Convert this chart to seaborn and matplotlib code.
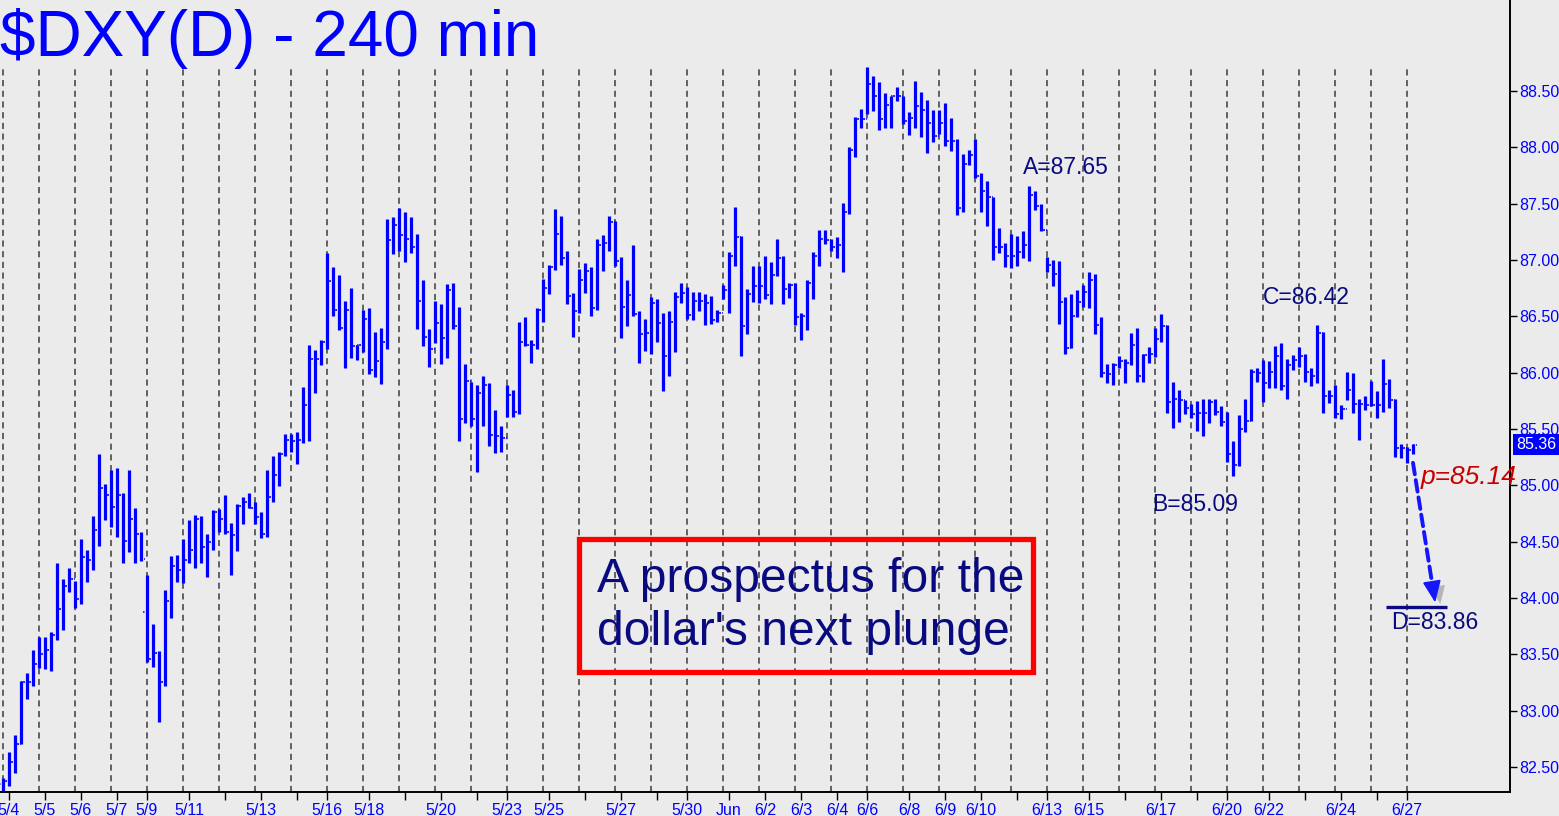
import numpy as np
import pandas as pd
import matplotlib
matplotlib.use('Agg')
import matplotlib.pyplot as plt
import matplotlib.patheffects as pe
from matplotlib.patches import Rectangle
from matplotlib.ticker import FormatStrFormatter
import seaborn as sns

# --- 240 min OHLC bars of $DXY (one row of 12 bars per line)
highs = [
    82.40, 82.63, 82.78, 83.26, 83.33, 83.54, 83.65, 83.65, 83.70, 84.31, 84.17, 84.27,
    84.15, 84.52, 84.43, 84.73, 85.28, 85.01, 85.14, 85.15, 84.93, 85.14, 84.80, 84.59,
    84.20, 83.77, 83.53, 84.07, 84.37, 84.38, 84.52, 84.69, 84.74, 84.73, 84.57, 84.78,
    84.79, 84.91, 84.67, 84.83, 84.90, 84.93, 84.85, 84.76, 85.14, 85.26, 85.30, 85.46,
    85.46, 85.47, 85.87, 86.25, 86.20, 86.29, 87.06, 86.94, 86.87, 86.64, 86.75, 86.25,
    86.56, 86.57, 86.36, 86.40, 87.36, 87.38, 87.46, 87.43, 87.38, 87.23, 86.82, 86.39,
    86.64, 86.61, 86.79, 86.80, 86.58, 86.08, 85.92, 85.89, 85.97, 85.91, 85.67, 85.53,
    85.89, 85.85, 86.45, 86.49, 86.29, 86.57, 86.83, 86.96, 87.45, 87.39, 87.08, 86.71,
    86.92, 86.97, 86.94, 87.19, 87.22, 87.39, 87.35, 87.03, 86.82, 87.13, 86.55, 86.48,
    86.67, 86.65, 86.53, 86.55, 86.72, 86.80, 86.76, 86.72, 86.72, 86.70, 86.68, 86.56,
    86.78, 87.07, 87.47, 87.21, 86.74, 86.95, 86.95, 87.04, 86.98, 87.19, 87.04, 86.80,
    86.80, 86.53, 86.82, 87.07, 87.27, 87.27, 87.19, 87.20, 87.51, 88.00, 88.27, 88.34,
    88.71, 88.63, 88.58, 88.48, 88.46, 88.54, 88.46, 88.31, 88.59, 88.49, 88.42, 88.33,
    88.33, 88.39, 88.26, 88.07, 87.94, 87.98, 88.07, 87.77, 87.70, 87.56, 87.28, 87.15,
    87.23, 87.21, 87.26, 87.66, 87.61, 87.50, 87.03, 87.00, 86.99, 86.67, 86.70, 86.73,
    86.78, 86.89, 86.88, 86.49, 86.08, 86.09, 86.15, 86.12, 86.35, 86.40, 86.17, 86.23,
    86.40, 86.52, 86.42, 85.92, 85.85, 85.76, 85.72, 85.75, 85.77, 85.77, 85.77, 85.70,
    85.65, 85.39, 85.62, 85.77, 86.03, 86.04, 86.11, 86.10, 86.24, 86.26, 86.12, 86.16,
    86.23, 86.17, 86.04, 86.42, 86.36, 85.85, 85.89, 85.71, 86.01, 86.00, 85.77, 85.79,
    85.93, 85.84, 86.12, 85.94, 85.77, 85.37, 85.34, 85.37,
]
lows = [
    82.29, 82.33, 82.45, 82.70, 83.10, 83.22, 83.38, 83.37, 83.35, 83.63, 83.72, 84.05,
    83.91, 83.95, 84.14, 84.25, 84.46, 84.69, 84.63, 84.54, 84.31, 84.41, 84.31, 84.33,
    83.43, 83.39, 82.90, 83.22, 83.82, 84.14, 84.13, 84.31, 84.27, 84.31, 84.19, 84.43,
    84.59, 84.57, 84.20, 84.42, 84.66, 84.80, 84.66, 84.53, 84.54, 84.85, 84.99, 85.26,
    85.30, 85.19, 85.38, 85.39, 85.82, 86.07, 86.21, 86.50, 86.38, 86.04, 86.13, 86.11,
    86.18, 85.99, 85.96, 85.90, 86.21, 87.05, 87.08, 86.98, 87.06, 86.39, 86.24, 86.05,
    86.26, 86.08, 86.13, 86.39, 85.39, 85.55, 85.53, 85.12, 85.53, 85.35, 85.29, 85.30,
    85.61, 85.61, 85.63, 86.24, 86.09, 86.21, 86.45, 86.70, 86.91, 86.96, 86.61, 86.32,
    86.53, 86.71, 86.50, 86.56, 86.90, 87.08, 86.95, 86.31, 86.41, 86.50, 86.09, 86.19,
    86.17, 86.27, 85.84, 85.97, 86.18, 86.62, 86.48, 86.47, 86.55, 86.42, 86.43, 86.45,
    86.65, 86.53, 86.95, 86.15, 86.34, 86.63, 86.62, 86.65, 86.61, 86.86, 86.61, 86.66,
    86.42, 86.29, 86.38, 86.65, 86.95, 87.14, 87.08, 87.02, 86.89, 87.41, 87.91, 88.17,
    88.30, 88.32, 88.15, 88.17, 88.17, 88.41, 88.21, 88.11, 88.17, 88.09, 87.95, 88.05,
    88.12, 88.01, 87.97, 87.40, 87.43, 87.84, 87.73, 87.43, 87.30, 87.00, 87.06, 86.94,
    86.93, 86.95, 87.02, 86.99, 87.44, 87.26, 86.89, 86.77, 86.43, 86.17, 86.22, 86.49,
    86.58, 86.57, 86.34, 85.96, 85.91, 85.89, 86.04, 85.91, 86.07, 85.92, 85.92, 86.09,
    86.14, 86.27, 85.64, 85.51, 85.56, 85.63, 85.60, 85.48, 85.44, 85.55, 85.62, 85.53,
    85.21, 85.08, 85.17, 85.47, 85.57, 85.92, 85.74, 85.86, 85.86, 85.85, 85.77, 86.02,
    86.05, 85.92, 85.88, 85.91, 85.64, 85.73, 85.60, 85.59, 85.76, 85.64, 85.40, 85.67,
    85.70, 85.60, 85.65, 85.69, 85.25, 85.24, 85.20, 85.28,
]
opens = [
    82.35, 82.38, 82.54, 82.70, 83.25, 83.25, 83.41, 83.50, 83.54, 83.67, 83.90, 84.11,
    84.17, 83.99, 84.36, 84.34, 84.60, 84.98, 84.91, 84.81, 84.91, 84.51, 84.70, 84.57,
    83.88, 83.46, 83.51, 83.25, 83.97, 84.28, 84.25, 84.34, 84.43, 84.70, 84.45, 84.50,
    84.76, 84.70, 84.59, 84.56, 84.82, 84.85, 84.80, 84.72, 84.57, 84.90, 85.09, 85.28,
    85.40, 85.39, 85.40, 85.71, 86.12, 86.12, 86.27, 86.81, 86.56, 86.40, 86.56, 86.24,
    86.25, 86.48, 86.02, 86.10, 86.27, 87.18, 87.31, 87.22, 87.19, 87.12, 86.64, 86.32,
    86.21, 86.44, 86.31, 86.73, 86.41, 85.59, 85.93, 85.59, 85.82, 85.89, 85.45, 85.44,
    85.42, 85.80, 85.65, 86.27, 86.25, 86.25, 86.56, 86.75, 86.94, 87.23, 87.02, 86.68,
    86.55, 86.82, 86.90, 86.57, 87.13, 87.15, 87.34, 86.99, 86.58, 86.69, 86.52, 86.34,
    86.35, 86.62, 86.44, 86.15, 86.45, 86.67, 86.71, 86.51, 86.64, 86.64, 86.62, 86.47,
    86.53, 86.73, 87.04, 87.20, 86.41, 86.70, 86.77, 86.77, 86.69, 86.87, 87.02, 86.74,
    86.78, 86.49, 86.50, 86.80, 87.04, 87.19, 87.18, 87.12, 87.13, 87.43, 87.98, 88.25,
    88.25, 88.56, 88.46, 88.25, 88.38, 88.46, 88.46, 88.23, 88.26, 88.37, 88.33, 88.22,
    88.10, 88.22, 88.06, 88.06, 87.46, 87.85, 87.93, 87.75, 87.61, 87.56, 87.12, 87.12,
    87.04, 87.04, 87.07, 87.13, 87.58, 87.48, 87.27, 86.96, 86.88, 86.63, 86.22, 86.50,
    86.63, 86.72, 86.82, 86.42, 86.00, 85.99, 86.07, 86.10, 86.09, 86.25, 85.97, 86.16,
    86.17, 86.30, 86.41, 85.74, 85.77, 85.76, 85.69, 85.63, 85.64, 85.64, 85.74, 85.65,
    85.56, 85.28, 85.18, 85.50, 85.57, 86.01, 86.00, 85.91, 86.01, 86.15, 85.88, 86.07,
    86.11, 86.15, 86.01, 85.97, 86.35, 85.79, 85.79, 85.63, 85.68, 85.85, 85.72, 85.72,
    85.71, 85.71, 85.71, 85.90, 85.76, 85.33, 85.33, 85.31,
]
closes = [
    82.38, 82.54, 82.70, 83.25, 83.25, 83.41, 83.50, 83.54, 83.67, 83.90, 84.11, 84.17,
    83.99, 84.36, 84.34, 84.60, 84.98, 84.91, 84.81, 84.91, 84.51, 84.70, 84.57, 84.35,
    83.46, 83.51, 83.25, 83.97, 84.28, 84.25, 84.34, 84.43, 84.70, 84.45, 84.50, 84.76,
    84.70, 84.59, 84.56, 84.82, 84.85, 84.80, 84.72, 84.57, 84.90, 85.09, 85.28, 85.40,
    85.39, 85.40, 85.71, 86.12, 86.12, 86.27, 86.81, 86.56, 86.40, 86.56, 86.24, 86.25,
    86.48, 86.02, 86.10, 86.27, 87.18, 87.31, 87.22, 87.19, 87.12, 86.64, 86.32, 86.21,
    86.44, 86.31, 86.73, 86.41, 85.59, 85.93, 85.59, 85.82, 85.89, 85.45, 85.44, 85.42,
    85.80, 85.65, 86.27, 86.25, 86.25, 86.56, 86.75, 86.94, 87.23, 87.02, 86.68, 86.55,
    86.82, 86.90, 86.57, 87.13, 87.15, 87.34, 86.99, 86.58, 86.69, 86.52, 86.34, 86.35,
    86.62, 86.44, 86.15, 86.45, 86.67, 86.71, 86.51, 86.64, 86.64, 86.62, 86.47, 86.53,
    86.73, 87.04, 87.20, 86.41, 86.70, 86.77, 86.77, 86.69, 86.87, 87.02, 86.74, 86.78,
    86.49, 86.50, 86.80, 87.04, 87.19, 87.18, 87.12, 87.13, 87.43, 87.98, 88.25, 88.25,
    88.56, 88.46, 88.25, 88.38, 88.46, 88.46, 88.23, 88.26, 88.37, 88.33, 88.22, 88.10,
    88.22, 88.06, 88.06, 87.46, 87.85, 87.93, 87.75, 87.61, 87.56, 87.12, 87.12, 87.04,
    87.04, 87.07, 87.13, 87.58, 87.48, 87.27, 86.96, 86.88, 86.63, 86.22, 86.50, 86.63,
    86.72, 86.82, 86.42, 86.00, 85.99, 86.07, 86.10, 86.09, 86.25, 85.97, 86.16, 86.17,
    86.30, 86.41, 85.74, 85.77, 85.76, 85.69, 85.63, 85.64, 85.64, 85.74, 85.65, 85.56,
    85.28, 85.18, 85.50, 85.57, 86.01, 86.00, 85.91, 86.01, 86.15, 85.88, 86.07, 86.11,
    86.15, 86.01, 85.97, 86.35, 85.79, 85.79, 85.63, 85.68, 85.85, 85.72, 85.72, 85.71,
    85.71, 85.71, 85.90, 85.76, 85.33, 85.33, 85.31, 85.36,
]

# date ticks (bar index where the session label sits) and their labels
date_tick_bars = [1, 7, 13, 19, 24, 31, 37, 43, 49, 54, 61, 67, 73, 79, 84, 91, 97, 103, 109, 114,
                  121, 127, 133, 139, 144, 151, 157, 163, 169, 174, 181, 187, 193, 199, 204, 211,
                  217, 223, 229, 234]
date_labels = ['5/4', '5/5', '5/6', '5/7', '5/9', '5/11', '', '5/13', '', '5/16', '5/18', '', '5/20', '',
               '5/23', '5/25', '', '5/27', '', '5/30', 'Jun', '6/2', '6/3', '6/4', '6/6', '6/8', '6/9',
               '6/10', '', '6/13', '6/15', '', '6/17', '', '6/20', '6/22', '', '6/24', '', '6/27']
price_ticks = [82.5, 83.0, 83.5, 84.0, 84.5, 85.0, 85.5, 86.0, 86.5, 87.0, 87.5, 88.0, 88.5]

# ABCD pattern pivots and projected targets
pivot_a = (171, 87.65)
pivot_b = (205, 85.09)
pivot_c = (219, 86.42)
target_p = 85.14
target_d = 83.86

BLUE = '#0000ff'
NAVY = '#0a0a80'
BG = '#ebebeb'

sns.set_style('white', {'axes.facecolor': BG, 'figure.facecolor': BG})
plt.rcParams['font.family'] = ['Liberation Sans', 'DejaVu Sans']

df = pd.DataFrame({'open': opens, 'high': highs, 'low': lows, 'close': closes})
df['bar'] = np.arange(len(df))

W, H = 1559, 816
fig = plt.figure(figsize=(W / 100, H / 100), dpi=100)
ax = fig.add_axes([0, 24 / H, 1510 / W, 792 / H])
ax.set_xlim(-0.5, 251.17)
ax.set_ylim(82.278, 89.308)

# daily separators
day_starts = df['bar'][::6]
ax.vlines(day_starts, ax.get_ylim()[0], df['high'].max(), colors='#3c3c3c', lw=1.1,
          linestyles=(0, (4, 3)), zorder=1)

# OHLC bars
ax.vlines(df['bar'], df['low'], df['high'], colors=BLUE, lw=2.3, zorder=3)
ax.hlines(df['open'], df['bar'] - 0.6, df['bar'], colors=BLUE, lw=1.1, linestyles=(0, (1, 1)), zorder=3)
ax.hlines(df['close'], df['bar'], df['bar'] + 0.6, colors=BLUE, lw=1.1, linestyles=(0, (1, 1)), zorder=3)

# axes styling
sns.despine(ax=ax, left=True, top=True, right=False, bottom=False)
for side in ('right', 'bottom'):
    ax.spines[side].set_color('black')
    ax.spines[side].set_linewidth(1.4)

ax.yaxis.tick_right()
ax.set_yticks(price_ticks)
ax.yaxis.set_major_formatter(FormatStrFormatter('%.2f'))
ax.set_xticks(date_tick_bars, date_labels)
ax.tick_params(axis='y', right=True, length=5, width=1, color='black', labelcolor=BLUE,
               labelsize=11.5, pad=2)
ax.tick_params(axis='x', bottom=True, length=6, width=1, color='black', labelcolor=BLUE,
               labelsize=11.5, pad=2)
ax.grid(False)

# last price flag on the axis
ax.text(1.004, df['close'].iloc[-1], f"{df['close'].iloc[-1]:.2f}", transform=ax.get_yaxis_transform(),
        ha='left', va='center', color='white', fontsize=11.5, clip_on=False,
        bbox=dict(boxstyle='square,pad=0.2', fc=BLUE, ec='none'))

# pattern labels
ax.annotate(f'A={pivot_a[1]:.2f}', xy=pivot_a, xytext=(-4, 14), textcoords='offset points',
            ha='left', va='center', color=NAVY, fontsize=16.5)
ax.annotate(f'B={pivot_b[1]:.2f}', xy=pivot_b, xytext=(-58, -21), textcoords='offset points',
            ha='left', va='center', color=NAVY, fontsize=16.5)
ax.annotate(f'C={pivot_c[1]:.2f}', xy=pivot_c, xytext=(-39, 20), textcoords='offset points',
            ha='left', va='center', color=NAVY, fontsize=16.5)
ax.text(236.2, 85.07, f'p={target_p:.2f}', ha='left', va='center', color='#c80000',
        fontsize=19, style='italic', clip_on=False)

# D target line and label
ax.hlines(target_d + 0.06, 230.5, 240.7, colors=NAVY, lw=2.4, zorder=4)
ax.text(231.3, target_d - 0.08, f'D={target_d:.2f}', ha='left', va='center', color=NAVY, fontsize=16.5)

# projected move arrow: dashed shaft plus a solid head
arrow_start = np.array([235.0, 85.20])
arrow_tip = np.array([238.7, 83.96])
head_base = arrow_tip - 0.14 * (arrow_tip - arrow_start)
shadow = [pe.SimplePatchShadow(offset=(4, -3), shadow_rgbFace='#777777', alpha=0.45), pe.Normal()]
ax.annotate('', xy=head_base, xytext=arrow_start,
            arrowprops=dict(arrowstyle='-', color='#1515ff', lw=2.8, linestyle=(0, (3, 1.5)),
                            shrinkA=0, shrinkB=0, path_effects=shadow), zorder=5)
ax.annotate('', xy=arrow_tip, xytext=head_base,
            arrowprops=dict(arrowstyle='-|>,head_length=1.3,head_width=0.55', color='#1515ff', lw=1.5,
                            shrinkA=0, shrinkB=0, path_effects=shadow), zorder=5)

# headline box
fig.patches.append(Rectangle((579 / W, 1 - 672 / H), 454 / W, 133 / H, transform=fig.transFigure,
                             fill=False, ec='#ff0000', lw=3.8, zorder=6))
headline = ['A prospectus for the', "dollar's next plunge"]
for i, line in enumerate(headline):
    fig.text(597 / W, 1 - (592 + 53 * i) / H, line, color=NAVY, fontsize=34.6, va='baseline', ha='left')

# chart title
fig.text(0, 1 - 56 / H, '$DXY(D) - 240 min', color=BLUE, fontsize=46, va='baseline', ha='left')

fig.savefig('out.png', dpi=100, facecolor=BG)
